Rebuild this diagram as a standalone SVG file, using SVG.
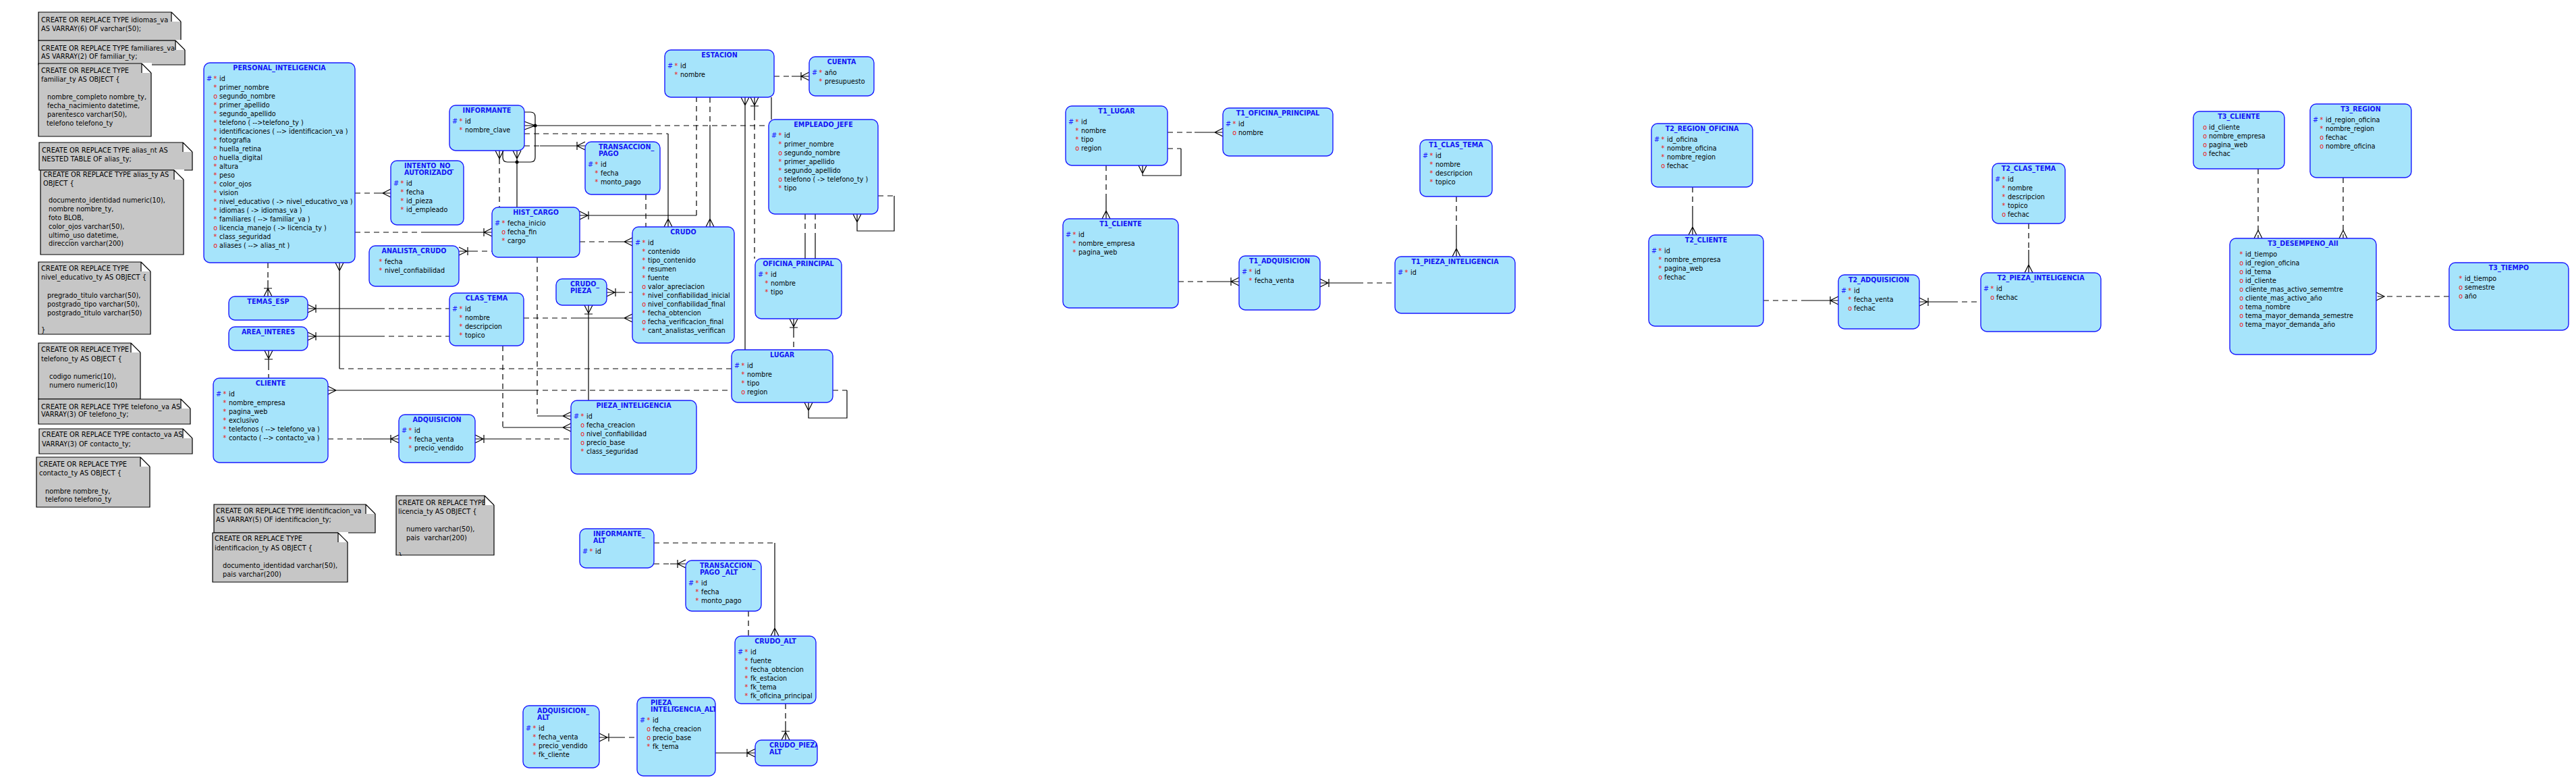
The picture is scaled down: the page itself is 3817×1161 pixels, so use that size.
<svg xmlns="http://www.w3.org/2000/svg" width="3817" height="1161" viewBox="0 0 3817 1161">
<defs>
<style>
text{font-family:"DejaVu Sans","Liberation Sans",sans-serif}
.e rect{fill:#a6e4fb;stroke:#1a1aff;stroke-width:1.4}
.e text{font-size:9.6px;fill:#000}
.e .t{font-weight:bold;fill:#1414f5}
.e .k{fill:#1a1aff}
.e .r{fill:#f01010}
.n polygon{fill:#c6c6c6;stroke:#000;stroke-width:1.2}
.n text{font-size:9.8px;fill:#000}
.n .f{fill:#fff;stroke:none}
.n path{stroke:#000;stroke-width:1.2;fill:none}
#connectors path{fill:none;stroke:#000;stroke-width:1.2}
#connectors path.d{stroke-dasharray:8 6}
#connectors circle{fill:#000}
</style>
<clipPath id="cpA"><rect x="944" y="1033" width="116" height="116" rx="9"/></clipPath>
<clipPath id="cpB"><rect x="1119" y="1096" width="92" height="38" rx="9"/></clipPath>
</defs>
<rect width="3817" height="1161" fill="#fff"/>

<!-- NOTES -->
<g id="note-idiomas_va" class="n"><svg x="56" y="17" width="213" height="44" overflow="hidden">
<polygon points="1,1 198,1 212,15 212,43 1,43"/>
<text x="5" y="16">CREATE OR REPLACE TYPE idiomas_va</text>
<text x="5" y="29">AS VARRAY(6) OF varchar(50);</text>
<rect class="f" x="198" y="0" width="15" height="15"/><path d="M198,1V15M198,1L212,15"/>
</svg></g>
<g id="note-familiares_va" class="n"><svg x="56" y="59" width="219" height="38" overflow="hidden">
<polygon points="1,1 204,1 218,15 218,37 1,37"/>
<text x="5" y="16">CREATE OR REPLACE TYPE familiares_va</text>
<text x="5" y="28">AS VARRAY(2) OF familiar_ty;</text>
<rect class="f" x="204" y="0" width="15" height="15"/><path d="M204,1V15M204,1L218,15"/>
</svg></g>
<g id="note-familiar_ty" class="n"><svg x="56" y="93" width="169" height="110" overflow="hidden">
<polygon points="1,1 154,1 168,15 168,109 1,109"/>
<text x="5" y="15">CREATE OR REPLACE TYPE</text>
<text x="5" y="28">familiar_ty AS OBJECT {</text>
<text x="14" y="54">nombre_completo nombre_ty,</text>
<text x="14" y="67">fecha_nacimiento datetime,</text>
<text x="14" y="80">parentesco varchar(50),</text>
<text x="13" y="93">telefono telefono_ty</text>
<rect class="f" x="154" y="0" width="15" height="15"/><path d="M154,1V15M154,1L168,15"/>
</svg></g>
<g id="note-alias_nt" class="n"><svg x="57" y="210" width="229" height="43" overflow="hidden">
<polygon points="1,1 214,1 228,15 228,42 1,42"/>
<text x="5" y="16">CREATE OR REPLACE TYPE alias_nt AS</text>
<text x="5" y="29">NESTED TABLE OF alias_ty;</text>
<rect class="f" x="214" y="0" width="15" height="15"/><path d="M214,1V15M214,1L228,15"/>
</svg></g>
<g id="note-alias_ty" class="n"><svg x="59" y="251" width="214" height="127" overflow="hidden">
<polygon points="1,1 199,1 213,15 213,126 1,126"/>
<text x="5" y="11">CREATE OR REPLACE TYPE alias_ty AS</text>
<text x="5" y="24">OBJECT {</text>
<text x="13" y="49">documento_identidad numeric(10),</text>
<text x="13" y="62">nombre nombre_ty,</text>
<text x="13" y="75">foto BLOB,</text>
<text x="13" y="88">color_ojos varchar(50),</text>
<text x="13" y="101">ultimo_uso datetime,</text>
<text x="13" y="113">direccion varchar(200)</text>
<rect class="f" x="199" y="0" width="15" height="15"/><path d="M199,1V15M199,1L213,15"/>
</svg></g>
<g id="note-nivel_educativo_ty" class="n"><svg x="56" y="387" width="168" height="109" overflow="hidden">
<polygon points="1,1 153,1 167,15 167,108 1,108"/>
<text x="5" y="14">CREATE OR REPLACE TYPE</text>
<text x="5" y="27">nivel_educativo_ty AS OBJECT {</text>
<text x="14" y="54">pregrado_titulo varchar(50),</text>
<text x="14" y="67">postgrado_tipo varchar(50),</text>
<text x="14" y="80">postgrado_titulo varchar(50)</text>
<text x="5" y="105">}</text>
<rect class="f" x="153" y="0" width="15" height="15"/><path d="M153,1V15M153,1L167,15"/>
</svg></g>
<g id="note-telefono_ty" class="n"><svg x="56" y="507" width="153" height="85" overflow="hidden">
<polygon points="1,1 138,1 152,15 152,84 1,84"/>
<text x="5" y="14">CREATE OR REPLACE TYPE</text>
<text x="5" y="28">telefono_ty AS OBJECT {</text>
<text x="17" y="54">codigo numeric(10),</text>
<text x="17" y="67">numero numeric(10)</text>
<rect class="f" x="138" y="0" width="15" height="15"/><path d="M138,1V15M138,1L152,15"/>
</svg></g>
<g id="note-telefono_va" class="n"><svg x="56" y="590" width="227" height="39" overflow="hidden">
<polygon points="1,1 212,1 226,15 226,38 1,38"/>
<text x="5" y="16">CREATE OR REPLACE TYPE telefono_va AS</text>
<text x="5" y="27">VARRAY(3) OF telefono_ty;</text>
<rect class="f" x="212" y="0" width="15" height="15"/><path d="M212,1V15M212,1L226,15"/>
</svg></g>
<g id="note-contacto_va" class="n"><svg x="57" y="634" width="229" height="39" overflow="hidden">
<polygon points="1,1 214,1 228,15 228,38 1,38"/>
<text x="5" y="13">CREATE OR REPLACE TYPE contacto_va AS</text>
<text x="5" y="27">VARRAY(3) OF contacto_ty;</text>
<rect class="f" x="214" y="0" width="15" height="15"/><path d="M214,1V15M214,1L228,15"/>
</svg></g>
<g id="note-contacto_ty" class="n"><svg x="53" y="676" width="170" height="76" overflow="hidden">
<polygon points="1,1 155,1 169,15 169,75 1,75"/>
<text x="5" y="15">CREATE OR REPLACE TYPE</text>
<text x="5" y="28">contacto_ty AS OBJECT {</text>
<text x="14" y="55">nombre nombre_ty,</text>
<text x="14" y="67">telefono telefono_ty</text>
<rect class="f" x="155" y="0" width="15" height="15"/><path d="M155,1V15M155,1L169,15"/>
</svg></g>
<g id="note-identificacion_va" class="n"><svg x="316" y="746" width="241" height="44" overflow="hidden">
<polygon points="1,1 226,1 240,15 240,43 1,43"/>
<text x="4" y="14">CREATE OR REPLACE TYPE identificacion_va</text>
<text x="4" y="27">AS VARRAY(5) OF identificacion_ty;</text>
<rect class="f" x="226" y="0" width="15" height="15"/><path d="M226,1V15M226,1L240,15"/>
</svg></g>
<g id="note-identificacion_ty" class="n"><svg x="314" y="788" width="202" height="75" overflow="hidden">
<polygon points="1,1 187,1 201,15 201,74 1,74"/>
<text x="4" y="13">CREATE OR REPLACE TYPE</text>
<text x="4" y="27">identificacion_ty AS OBJECT {</text>
<text x="16" y="53">documento_identidad varchar(50),</text>
<text x="16" y="66">pais varchar(200)</text>
<rect class="f" x="187" y="0" width="15" height="15"/><path d="M187,1V15M187,1L201,15"/>
</svg></g>
<g id="note-licencia_ty" class="n"><svg x="586" y="733" width="147" height="90" overflow="hidden">
<polygon points="1,1 132,1 146,15 146,89 1,89"/>
<text x="4" y="15">CREATE OR REPLACE TYPE</text>
<text x="4" y="28">licencia_ty AS OBJECT {</text>
<text x="16" y="54">numero varchar(50),</text>
<text x="16" y="67" style="white-space:pre">pais  varchar(200)</text>
<text x="4" y="93">}</text>
<rect class="f" x="132" y="0" width="15" height="15"/><path d="M132,1V15M132,1L146,15"/>
</svg></g>

<!-- CONNECTORS -->
<g id="connectors">
<path class="d" d="M526,286H558"/><path d="M558,286H579M579,280L567,286L579,292"/>
<path class="d" d="M526,344H627"/><path d="M627,344H729M717,338V350M729,338L717,344L729,350"/>
<path class="d" d="M397,389V415"/><path d="M397,415V439M391,427H403M391,439L397,427L403,439"/>
<path class="d" d="M1084,546H503"/><path d="M503,546V389M497,389L503,401L509,389"/>
<path d="M456,457H562M456,451L468,457L456,463M468,451V463"/><path class="d" d="M562,457H666"/>
<path d="M456,498H562M456,492L468,498L456,504M468,492V504"/><path class="d" d="M562,498H666"/>
<path d="M398,519V540M392,519L398,531L404,519M392,532H404"/><path class="d" d="M398,540V560"/>
<path d="M486,578H790M486,572L498,578L486,584"/><path class="d" d="M790,578H1084"/>
<path class="d" d="M1234,578H1255"/><path d="M1255,578V619H1198V596M1192,596L1198,608L1204,596"/>
<path class="d" d="M486,650H538"/><path d="M538,650H591M579,644V656M591,644L579,650L591,656"/>
<path d="M704,650H765M704,644L716,650L704,656M717,644V656"/><path class="d" d="M765,650H846"/>
<path class="d" d="M745,512V633"/><path d="M745,633H846M846,627L834,633L846,639"/>
<path class="d" d="M796,381V616"/><path d="M796,616H846M846,610L834,616L846,622"/>
<path class="d" d="M776,471H850"/><path d="M850,471H937M937,465L925,471L937,477"/>
<path d="M899,433H918M899,427L911,433L899,439M912,427V439"/><path class="d" d="M918,433H937"/>
<path d="M872,452V593M866,452L872,464L878,452M866,465H878"/>
<path d="M1104,144V518M1098,144L1104,156L1110,144"/>
<path d="M1118,144V170M1112,144L1118,156L1124,144M1112,157H1124"/><path class="d" d="M1118,170V383"/>
<path d="M859,319H1032M859,313L871,319L859,325M872,313V325"/><path class="d" d="M1032,319V144"/>
<path class="d" d="M1052,144V185"/><path d="M1052,185V336M1046,336L1052,324L1058,336"/>
<path d="M777,186H957M777,180L793,186L777,192"/><path class="d" d="M957,186H1139"/><circle cx="793" cy="186" r="2.5"/>
<path class="d" d="M777,198H990"/><path d="M990,198V336M984,336L990,324L996,336"/>
<path class="d" d="M777,216H800"/><path d="M800,216H867M855,210V222M867,210L855,216L867,222"/>
<path d="M777,166H786Q793,166 793,173V233Q793,240 786,240H752Q745,240 745,233V223"/>
<path d="M766,223V307M760,223L766,235L772,223"/><circle cx="766" cy="240" r="2.5"/>
<path d="M740,223V235M734,223L740,235L746,223"/><path class="d" d="M740,235V307"/>
<path d="M680,372H700M680,366L692,372L680,378M693,366V378"/><path class="d" d="M700,372H729"/>
<path class="d" d="M859,358H905"/><path d="M905,358H937M937,352L925,358L937,364"/>
<path class="d" d="M957,288V336"/>
<path class="d" d="M1147,113H1173"/><path d="M1173,113H1199M1187,107V119M1199,107L1187,113L1199,119"/>
<path d="M1143,144V177"/>
<path class="d" d="M1193,317V345M1208,317V345"/><path d="M1193,345V383M1208,345V383"/>
<path class="d" d="M1301,290H1325"/><path d="M1325,290V342H1270V317M1264,317L1270,329L1276,317"/>
<path d="M1176,472V492M1170,472L1176,484L1182,472M1170,485H1182"/><path class="d" d="M1176,492V518"/>
<path class="d" d="M969,804H1148"/><path d="M1148,804V942M1142,942L1148,930L1154,942"/>
<path class="d" d="M969,835H993"/><path d="M993,835H1016M1004,829V841M1016,829L1004,835L1016,841"/>
<path class="d" d="M1109,905V942"/>
<path class="d" d="M1164,1042V1068"/><path d="M1164,1068V1096M1158,1083H1170M1158,1096L1164,1084L1170,1096"/>
<path d="M1060,1115H1119M1107,1109V1121M1119,1109L1107,1115L1119,1121"/>
<path d="M888,1092H918M888,1086L900,1092L888,1098M902,1086V1098"/><path class="d" d="M918,1092H944"/>
<path class="d" d="M1730,196H1770"/><path d="M1770,196H1812M1812,190L1800,196L1812,202"/>
<path class="d" d="M1730,220H1750"/><path d="M1750,220V260H1693V245M1687,245L1693,257L1699,245"/>
<path class="d" d="M1639,245V290"/><path d="M1639,290V324M1633,324L1639,312L1645,324"/>
<path class="d" d="M1746,417H1788"/><path d="M1788,417H1836M1824,411V423M1836,411L1824,417L1836,423"/>
<path d="M1956,419H2012M1956,413L1968,419L1956,425M1969,413V425"/><path class="d" d="M2012,419H2067"/>
<path class="d" d="M2158,291V340"/><path d="M2158,340V380M2152,380L2158,368L2164,380"/>
<path class="d" d="M2508,277V310"/><path d="M2508,310V348M2502,348L2508,336L2514,348"/>
<path class="d" d="M2613,445H2669"/><path d="M2669,445H2724M2712,439V451M2724,439L2712,445L2724,451"/>
<path d="M2844,447H2893M2844,441L2856,447L2844,453M2857,441V453"/><path class="d" d="M2893,447H2935"/>
<path class="d" d="M3006,331V370"/><path d="M3006,370V404M3000,404L3006,392L3012,404"/>
<path class="d" d="M3346,250V353"/><path d="M3340,353L3346,341L3352,353"/>
<path class="d" d="M3472,263V353"/><path d="M3466,353L3472,341L3478,353"/>
<path class="d" d="M3629,439H3521"/><path d="M3521,433L3533,439L3521,445"/>
</g>

<!-- ENTITIES -->
<g id="PERSONAL_INTELIGENCIA" class="e"><rect x="302" y="93" width="224" height="296" rx="9"/>
<text class="t" x="414" y="103.5" text-anchor="middle">PERSONAL_INTELIGENCIA</text>
<text y="119.5"><tspan class="k" x="306">#</tspan><tspan class="r" x="316.6">*</tspan><tspan x="325">id</tspan></text>
<text y="132.5"><tspan class="r" x="316.6">*</tspan><tspan x="325">primer_nombre</tspan></text>
<text y="145.5"><tspan class="r" x="316.2">o</tspan><tspan x="325">segundo_nombre</tspan></text>
<text y="158.5"><tspan class="r" x="316.6">*</tspan><tspan x="325">primer_apellido</tspan></text>
<text y="171.5"><tspan class="r" x="316.6">*</tspan><tspan x="325">segundo_apellido</tspan></text>
<text y="184.5"><tspan class="r" x="316.6">*</tspan><tspan x="325">telefono ( --&gt;telefono_ty )</tspan></text>
<text y="197.5"><tspan class="r" x="316.6">*</tspan><tspan x="325">identificaciones ( --&gt; identificacion_va )</tspan></text>
<text y="210.5"><tspan class="r" x="316.6">*</tspan><tspan x="325">fotografia</tspan></text>
<text y="223.5"><tspan class="r" x="316.6">*</tspan><tspan x="325">huella_retina</tspan></text>
<text y="236.5"><tspan class="r" x="316.2">o</tspan><tspan x="325">huella_digital</tspan></text>
<text y="249.5"><tspan class="r" x="316.6">*</tspan><tspan x="325">altura</tspan></text>
<text y="262.5"><tspan class="r" x="316.6">*</tspan><tspan x="325">peso</tspan></text>
<text y="275.5"><tspan class="r" x="316.6">*</tspan><tspan x="325">color_ojos</tspan></text>
<text y="288.5"><tspan class="r" x="316.6">*</tspan><tspan x="325">vision</tspan></text>
<text y="301.5"><tspan class="r" x="316.6">*</tspan><tspan x="325">nivel_educativo ( -&gt; nivel_educativo_va )</tspan></text>
<text y="314.5"><tspan class="r" x="316.6">*</tspan><tspan x="325">idiomas ( -&gt; idiomas_va )</tspan></text>
<text y="327.5"><tspan class="r" x="316.6">*</tspan><tspan x="325">familiares ( --&gt; familiar_va )</tspan></text>
<text y="340.5"><tspan class="r" x="316.2">o</tspan><tspan x="325">licencia_manejo ( -&gt; licencia_ty )</tspan></text>
<text y="353.5"><tspan class="r" x="316.6">*</tspan><tspan x="325">class_seguridad</tspan></text>
<text y="366.5"><tspan class="r" x="316.2">o</tspan><tspan x="325">aliases ( --&gt; alias_nt )</tspan></text>
</g>
<g id="INFORMANTE" class="e"><rect x="666" y="156" width="111" height="67" rx="9"/>
<text class="t" x="721.5" y="166.5" text-anchor="middle">INFORMANTE</text>
<text y="182.5"><tspan class="k" x="670">#</tspan><tspan class="r" x="680.6">*</tspan><tspan x="689">id</tspan></text>
<text y="195.5"><tspan class="r" x="680.6">*</tspan><tspan x="689">nombre_clave</tspan></text>
</g>
<g id="INTENTO_NO_AUTORIZADO" class="e"><rect x="579" y="238" width="108" height="95" rx="9"/>
<text class="t" x="599" y="248.5">INTENTO_NO_</text><text class="t" x="599" y="258.5">AUTORIZADO</text>
<text y="274.5"><tspan class="k" x="583">#</tspan><tspan class="r" x="593.6">*</tspan><tspan x="602">id</tspan></text>
<text y="287.5"><tspan class="r" x="593.6">*</tspan><tspan x="602">fecha</tspan></text>
<text y="300.5"><tspan class="r" x="593.6">*</tspan><tspan x="602">id_pieza</tspan></text>
<text y="313.5"><tspan class="r" x="593.6">*</tspan><tspan x="602">id_empleado</tspan></text>
</g>
<g id="HIST_CARGO" class="e"><rect x="729" y="307" width="130" height="74" rx="9"/>
<text class="t" x="794" y="317.5" text-anchor="middle">HIST_CARGO</text>
<text y="333.5"><tspan class="k" x="733">#</tspan><tspan class="r" x="743.6">*</tspan><tspan x="752">fecha_inicio</tspan></text>
<text y="346.5"><tspan class="r" x="743.2">o</tspan><tspan x="752">fecha_fin</tspan></text>
<text y="359.5"><tspan class="r" x="743.6">*</tspan><tspan x="752">cargo</tspan></text>
</g>
<g id="ANALISTA_CRUDO" class="e"><rect x="547" y="364" width="133" height="60" rx="9"/>
<text class="t" x="613.5" y="374.5" text-anchor="middle">ANALISTA_CRUDO</text>
<text y="390.5"><tspan class="r" x="561.6">*</tspan><tspan x="570">fecha</tspan></text>
<text y="403.5"><tspan class="r" x="561.6">*</tspan><tspan x="570">nivel_confiabilidad</tspan></text>
</g>
<g id="ESTACION" class="e"><rect x="985" y="74" width="162" height="70" rx="9"/>
<text class="t" x="1066" y="84.5" text-anchor="middle">ESTACION</text>
<text y="100.5"><tspan class="k" x="989">#</tspan><tspan class="r" x="999.6">*</tspan><tspan x="1008">id</tspan></text>
<text y="113.5"><tspan class="r" x="999.6">*</tspan><tspan x="1008">nombre</tspan></text>
</g>
<g id="CUENTA" class="e"><rect x="1199" y="84" width="96" height="58" rx="9"/>
<text class="t" x="1247" y="94.5" text-anchor="middle">CUENTA</text>
<text y="110.5"><tspan class="k" x="1203">#</tspan><tspan class="r" x="1213.6">*</tspan><tspan x="1222">año</tspan></text>
<text y="123.5"><tspan class="r" x="1213.6">*</tspan><tspan x="1222">presupuesto</tspan></text>
</g>
<g id="TRANSACCION_PAGO" class="e"><rect x="867" y="210" width="111" height="78" rx="9"/>
<text class="t" x="887" y="220.5">TRANSACCION_</text><text class="t" x="887" y="230.5">PAGO</text>
<text y="246.5"><tspan class="k" x="871">#</tspan><tspan class="r" x="881.6">*</tspan><tspan x="890">id</tspan></text>
<text y="259.5"><tspan class="r" x="881.6">*</tspan><tspan x="890">fecha</tspan></text>
<text y="272.5"><tspan class="r" x="881.6">*</tspan><tspan x="890">monto_pago</tspan></text>
</g>
<g id="EMPLEADO_JEFE" class="e"><rect x="1139" y="177" width="162" height="140" rx="9"/>
<text class="t" x="1220" y="187.5" text-anchor="middle">EMPLEADO_JEFE</text>
<text y="203.5"><tspan class="k" x="1143">#</tspan><tspan class="r" x="1153.6">*</tspan><tspan x="1162">id</tspan></text>
<text y="216.5"><tspan class="r" x="1153.6">*</tspan><tspan x="1162">primer_nombre</tspan></text>
<text y="229.5"><tspan class="r" x="1153.2">o</tspan><tspan x="1162">segundo_nombre</tspan></text>
<text y="242.5"><tspan class="r" x="1153.6">*</tspan><tspan x="1162">primer_apellido</tspan></text>
<text y="255.5"><tspan class="r" x="1153.6">*</tspan><tspan x="1162">segundo_apellido</tspan></text>
<text y="268.5"><tspan class="r" x="1153.2">o</tspan><tspan x="1162">telefono ( -&gt; telefono_ty )</tspan></text>
<text y="281.5"><tspan class="r" x="1153.6">*</tspan><tspan x="1162">tipo</tspan></text>
</g>
<g id="CRUDO" class="e"><rect x="937" y="336" width="151" height="172" rx="9"/>
<text class="t" x="1012.5" y="346.5" text-anchor="middle">CRUDO</text>
<text y="362.5"><tspan class="k" x="941">#</tspan><tspan class="r" x="951.6">*</tspan><tspan x="960">id</tspan></text>
<text y="375.5"><tspan class="r" x="951.6">*</tspan><tspan x="960">contenido</tspan></text>
<text y="388.5"><tspan class="r" x="951.6">*</tspan><tspan x="960">tipo_contenido</tspan></text>
<text y="401.5"><tspan class="r" x="951.6">*</tspan><tspan x="960">resumen</tspan></text>
<text y="414.5"><tspan class="r" x="951.6">*</tspan><tspan x="960">fuente</tspan></text>
<text y="427.5"><tspan class="r" x="951.2">o</tspan><tspan x="960">valor_apreciacion</tspan></text>
<text y="440.5"><tspan class="r" x="951.6">*</tspan><tspan x="960">nivel_confiabilidad_inicial</tspan></text>
<text y="453.5"><tspan class="r" x="951.2">o</tspan><tspan x="960">nivel_confiabilidad_final</tspan></text>
<text y="466.5"><tspan class="r" x="951.6">*</tspan><tspan x="960">fecha_obtencion</tspan></text>
<text y="479.5"><tspan class="r" x="951.2">o</tspan><tspan x="960">fecha_verificacion_final</tspan></text>
<text y="492.5"><tspan class="r" x="951.6">*</tspan><tspan x="960">cant_analistas_verifican</tspan></text>
</g>
<g id="OFICINA_PRINCIPAL" class="e"><rect x="1119" y="383" width="128" height="89" rx="9"/>
<text class="t" x="1183" y="393.5" text-anchor="middle">OFICINA_PRINCIPAL</text>
<text y="409.5"><tspan class="k" x="1123">#</tspan><tspan class="r" x="1133.6">*</tspan><tspan x="1142">id</tspan></text>
<text y="422.5"><tspan class="r" x="1133.6">*</tspan><tspan x="1142">nombre</tspan></text>
<text y="435.5"><tspan class="r" x="1133.6">*</tspan><tspan x="1142">tipo</tspan></text>
</g>
<g id="CRUDO_PIEZA" class="e"><rect x="824" y="413" width="75" height="39" rx="9"/>
<text class="t" x="845" y="423.5">CRUDO_</text><text class="t" x="845" y="433.5">PIEZA</text>
</g>
<g id="LUGAR" class="e"><rect x="1084" y="518" width="150" height="78" rx="9"/>
<text class="t" x="1159" y="528.5" text-anchor="middle">LUGAR</text>
<text y="544.5"><tspan class="k" x="1088">#</tspan><tspan class="r" x="1098.6">*</tspan><tspan x="1107">id</tspan></text>
<text y="557.5"><tspan class="r" x="1098.6">*</tspan><tspan x="1107">nombre</tspan></text>
<text y="570.5"><tspan class="r" x="1098.6">*</tspan><tspan x="1107">tipo</tspan></text>
<text y="583.5"><tspan class="r" x="1098.2">o</tspan><tspan x="1107">region</tspan></text>
</g>
<g id="PIEZA_INTELIGENCIA" class="e"><rect x="846" y="593" width="186" height="109" rx="9"/>
<text class="t" x="939" y="603.5" text-anchor="middle">PIEZA_INTELIGENCIA</text>
<text y="619.5"><tspan class="k" x="850">#</tspan><tspan class="r" x="860.6">*</tspan><tspan x="869">id</tspan></text>
<text y="632.5"><tspan class="r" x="860.2">o</tspan><tspan x="869">fecha_creacion</tspan></text>
<text y="645.5"><tspan class="r" x="860.2">o</tspan><tspan x="869">nivel_confiabilidad</tspan></text>
<text y="658.5"><tspan class="r" x="860.2">o</tspan><tspan x="869">precio_base</tspan></text>
<text y="671.5"><tspan class="r" x="860.6">*</tspan><tspan x="869">class_seguridad</tspan></text>
</g>
<g id="TEMAS_ESP" class="e"><rect x="339" y="439" width="117" height="35" rx="9"/>
<text class="t" x="397.5" y="449.5" text-anchor="middle">TEMAS_ESP</text>
</g>
<g id="AREA_INTERES" class="e"><rect x="339" y="484" width="117" height="35" rx="9"/>
<text class="t" x="397.5" y="494.5" text-anchor="middle">AREA_INTERES</text>
</g>
<g id="CLAS_TEMA" class="e"><rect x="666" y="434" width="110" height="78" rx="9"/>
<text class="t" x="721" y="444.5" text-anchor="middle">CLAS_TEMA</text>
<text y="460.5"><tspan class="k" x="670">#</tspan><tspan class="r" x="680.6">*</tspan><tspan x="689">id</tspan></text>
<text y="473.5"><tspan class="r" x="680.6">*</tspan><tspan x="689">nombre</tspan></text>
<text y="486.5"><tspan class="r" x="680.6">*</tspan><tspan x="689">descripcion</tspan></text>
<text y="499.5"><tspan class="r" x="680.6">*</tspan><tspan x="689">topico</tspan></text>
</g>
<g id="CLIENTE" class="e"><rect x="316" y="560" width="170" height="125" rx="9"/>
<text class="t" x="401" y="570.5" text-anchor="middle">CLIENTE</text>
<text y="586.5"><tspan class="k" x="320">#</tspan><tspan class="r" x="330.6">*</tspan><tspan x="339">id</tspan></text>
<text y="599.5"><tspan class="r" x="330.6">*</tspan><tspan x="339">nombre_empresa</tspan></text>
<text y="612.5"><tspan class="r" x="330.6">*</tspan><tspan x="339">pagina_web</tspan></text>
<text y="625.5"><tspan class="r" x="330.6">*</tspan><tspan x="339">exclusivo</tspan></text>
<text y="638.5"><tspan class="r" x="330.6">*</tspan><tspan x="339">telefonos ( --&gt; telefono_va )</tspan></text>
<text y="651.5"><tspan class="r" x="330.6">*</tspan><tspan x="339">contacto ( --&gt; contacto_va )</tspan></text>
</g>
<g id="ADQUISICION" class="e"><rect x="591" y="614" width="113" height="71" rx="9"/>
<text class="t" x="647.5" y="624.5" text-anchor="middle">ADQUISICION</text>
<text y="640.5"><tspan class="k" x="595">#</tspan><tspan class="r" x="605.6">*</tspan><tspan x="614">id</tspan></text>
<text y="653.5"><tspan class="r" x="605.6">*</tspan><tspan x="614">fecha_venta</tspan></text>
<text y="666.5"><tspan class="r" x="605.6">*</tspan><tspan x="614">precio_vendido</tspan></text>
</g>

<g id="INFORMANTE_ALT" class="e"><rect x="859" y="783" width="110" height="58" rx="9"/>
<text class="t" x="879" y="793.5">INFORMANTE_</text><text class="t" x="879" y="803.5">ALT</text>
<text y="819.5"><tspan class="k" x="863">#</tspan><tspan class="r" x="873.6">*</tspan><tspan x="882">id</tspan></text>
</g>
<g id="TRANSACCION_PAGO_ALT" class="e"><rect x="1016" y="830" width="112" height="75" rx="9"/>
<text class="t" x="1037" y="840.5">TRANSACCION_</text><text class="t" x="1037" y="850.5">PAGO _ALT</text>
<text y="866.5"><tspan class="k" x="1020">#</tspan><tspan class="r" x="1030.6">*</tspan><tspan x="1039">id</tspan></text>
<text y="879.5"><tspan class="r" x="1030.6">*</tspan><tspan x="1039">fecha</tspan></text>
<text y="892.5"><tspan class="r" x="1030.6">*</tspan><tspan x="1039">monto_pago</tspan></text>
</g>
<g id="CRUDO_ALT" class="e"><rect x="1089" y="942" width="120" height="100" rx="9"/>
<text class="t" x="1149" y="952.5" text-anchor="middle">CRUDO_ALT</text>
<text y="968.5"><tspan class="k" x="1093">#</tspan><tspan class="r" x="1103.6">*</tspan><tspan x="1112">id</tspan></text>
<text y="981.5"><tspan class="r" x="1103.6">*</tspan><tspan x="1112">fuente</tspan></text>
<text y="994.5"><tspan class="r" x="1103.6">*</tspan><tspan x="1112">fecha_obtencion</tspan></text>
<text y="1007.5"><tspan class="r" x="1103.6">*</tspan><tspan x="1112">fk_estacion</tspan></text>
<text y="1020.5"><tspan class="r" x="1103.6">*</tspan><tspan x="1112">fk_tema</tspan></text>
<text y="1033.5"><tspan class="r" x="1103.6">*</tspan><tspan x="1112">fk_oficina_principal</tspan></text>
</g>
<g id="ADQUISICION_ALT" class="e"><rect x="775" y="1045" width="113" height="92" rx="9"/>
<text class="t" x="796" y="1055.5">ADQUISICION_</text><text class="t" x="796" y="1065.5">ALT</text>
<text y="1081.5"><tspan class="k" x="779">#</tspan><tspan class="r" x="789.6">*</tspan><tspan x="798">id</tspan></text>
<text y="1094.5"><tspan class="r" x="789.6">*</tspan><tspan x="798">fecha_venta</tspan></text>
<text y="1107.5"><tspan class="r" x="789.6">*</tspan><tspan x="798">precio_vendido</tspan></text>
<text y="1120.5"><tspan class="r" x="789.6">*</tspan><tspan x="798">fk_cliente</tspan></text>
</g>
<g id="PIEZA_INTELIGENCIA_ALT" class="e"><rect x="944" y="1033" width="116" height="116" rx="9"/>
<g clip-path="url(#cpA)"><text class="t" x="964" y="1043.5">PIEZA_</text><text class="t" x="964" y="1053.5">INTELIGENCIA_ALT</text></g>
<text y="1069.5"><tspan class="k" x="948">#</tspan><tspan class="r" x="958.6">*</tspan><tspan x="967">id</tspan></text>
<text y="1082.5"><tspan class="r" x="958.2">o</tspan><tspan x="967">fecha_creacion</tspan></text>
<text y="1095.5"><tspan class="r" x="958.2">o</tspan><tspan x="967">precio_base</tspan></text>
<text y="1108.5"><tspan class="r" x="958.6">*</tspan><tspan x="967">fk_tema</tspan></text>
</g>
<g id="CRUDO_PIEZA_ALT" class="e"><rect x="1119" y="1096" width="92" height="38" rx="9"/>
<g clip-path="url(#cpB)"><text class="t" x="1140" y="1106.5">CRUDO_PIEZA_</text><text class="t" x="1140" y="1116.5">ALT</text></g>
</g>

<g id="T1_LUGAR" class="e"><rect x="1579" y="157" width="151" height="88" rx="9"/>
<text class="t" x="1654.5" y="167.5" text-anchor="middle">T1_LUGAR</text>
<text y="183.5"><tspan class="k" x="1583">#</tspan><tspan class="r" x="1593.6">*</tspan><tspan x="1602">id</tspan></text>
<text y="196.5"><tspan class="r" x="1593.6">*</tspan><tspan x="1602">nombre</tspan></text>
<text y="209.5"><tspan class="r" x="1593.6">*</tspan><tspan x="1602">tipo</tspan></text>
<text y="222.5"><tspan class="r" x="1593.2">o</tspan><tspan x="1602">region</tspan></text>
</g>
<g id="T1_OFICINA_PRINCIPAL" class="e"><rect x="1812" y="160" width="163" height="71" rx="9"/>
<text class="t" x="1893.5" y="170.5" text-anchor="middle">T1_OFICINA_PRINCIPAL</text>
<text y="186.5"><tspan class="k" x="1816">#</tspan><tspan class="r" x="1826.6">*</tspan><tspan x="1835">id</tspan></text>
<text y="199.5"><tspan class="r" x="1826.2">o</tspan><tspan x="1835">nombre</tspan></text>
</g>
<g id="T1_CLAS_TEMA" class="e"><rect x="2104" y="207" width="107" height="84" rx="9"/>
<text class="t" x="2157.5" y="217.5" text-anchor="middle">T1_CLAS_TEMA</text>
<text y="233.5"><tspan class="k" x="2108">#</tspan><tspan class="r" x="2118.6">*</tspan><tspan x="2127">id</tspan></text>
<text y="246.5"><tspan class="r" x="2118.6">*</tspan><tspan x="2127">nombre</tspan></text>
<text y="259.5"><tspan class="r" x="2118.6">*</tspan><tspan x="2127">descripcion</tspan></text>
<text y="272.5"><tspan class="r" x="2118.6">*</tspan><tspan x="2127">topico</tspan></text>
</g>
<g id="T1_CLIENTE" class="e"><rect x="1575" y="324" width="171" height="132" rx="9"/>
<text class="t" x="1660.5" y="334.5" text-anchor="middle">T1_CLIENTE</text>
<text y="350.5"><tspan class="k" x="1579">#</tspan><tspan class="r" x="1589.6">*</tspan><tspan x="1598">id</tspan></text>
<text y="363.5"><tspan class="r" x="1589.6">*</tspan><tspan x="1598">nombre_empresa</tspan></text>
<text y="376.5"><tspan class="r" x="1589.6">*</tspan><tspan x="1598">pagina_web</tspan></text>
</g>
<g id="T1_ADQUISICION" class="e"><rect x="1836" y="379" width="120" height="80" rx="9"/>
<text class="t" x="1896" y="389.5" text-anchor="middle">T1_ADQUISICION</text>
<text y="405.5"><tspan class="k" x="1840">#</tspan><tspan class="r" x="1850.6">*</tspan><tspan x="1859">id</tspan></text>
<text y="418.5"><tspan class="r" x="1850.6">*</tspan><tspan x="1859">fecha_venta</tspan></text>
</g>
<g id="T1_PIEZA_INTELIGENCIA" class="e"><rect x="2067" y="380" width="178" height="84" rx="9"/>
<text class="t" x="2156" y="390.5" text-anchor="middle">T1_PIEZA_INTELIGENCIA</text>
<text y="406.5"><tspan class="k" x="2071">#</tspan><tspan class="r" x="2081.6">*</tspan><tspan x="2090">id</tspan></text>
</g>

<g id="T2_REGION_OFICINA" class="e"><rect x="2447" y="183" width="150" height="94" rx="9"/>
<text class="t" x="2522" y="193.5" text-anchor="middle">T2_REGION_OFICINA</text>
<text y="209.5"><tspan class="k" x="2451">#</tspan><tspan class="r" x="2461.6">*</tspan><tspan x="2470">id_oficina</tspan></text>
<text y="222.5"><tspan class="r" x="2461.6">*</tspan><tspan x="2470">nombre_oficina</tspan></text>
<text y="235.5"><tspan class="r" x="2461.6">*</tspan><tspan x="2470">nombre_region</tspan></text>
<text y="248.5"><tspan class="r" x="2461.2">o</tspan><tspan x="2470">fechac</tspan></text>
</g>
<g id="T2_CLIENTE" class="e"><rect x="2443" y="348" width="170" height="135" rx="9"/>
<text class="t" x="2528" y="358.5" text-anchor="middle">T2_CLIENTE</text>
<text y="374.5"><tspan class="k" x="2447">#</tspan><tspan class="r" x="2457.6">*</tspan><tspan x="2466">id</tspan></text>
<text y="387.5"><tspan class="r" x="2457.6">*</tspan><tspan x="2466">nombre_empresa</tspan></text>
<text y="400.5"><tspan class="r" x="2457.6">*</tspan><tspan x="2466">pagina_web</tspan></text>
<text y="413.5"><tspan class="r" x="2457.2">o</tspan><tspan x="2466">fechac</tspan></text>
</g>
<g id="T2_ADQUISICION" class="e"><rect x="2724" y="407" width="120" height="80" rx="9"/>
<text class="t" x="2784" y="417.5" text-anchor="middle">T2_ADQUISICION</text>
<text y="433.5"><tspan class="k" x="2728">#</tspan><tspan class="r" x="2738.6">*</tspan><tspan x="2747">id</tspan></text>
<text y="446.5"><tspan class="r" x="2738.6">*</tspan><tspan x="2747">fecha_venta</tspan></text>
<text y="459.5"><tspan class="r" x="2738.2">o</tspan><tspan x="2747">fechac</tspan></text>
</g>
<g id="T2_CLAS_TEMA" class="e"><rect x="2952" y="242" width="108" height="89" rx="9"/>
<text class="t" x="3006" y="252.5" text-anchor="middle">T2_CLAS_TEMA</text>
<text y="268.5"><tspan class="k" x="2956">#</tspan><tspan class="r" x="2966.6">*</tspan><tspan x="2975">id</tspan></text>
<text y="281.5"><tspan class="r" x="2966.6">*</tspan><tspan x="2975">nombre</tspan></text>
<text y="294.5"><tspan class="r" x="2966.6">*</tspan><tspan x="2975">descripcion</tspan></text>
<text y="307.5"><tspan class="r" x="2966.6">*</tspan><tspan x="2975">topico</tspan></text>
<text y="320.5"><tspan class="r" x="2966.2">o</tspan><tspan x="2975">fechac</tspan></text>
</g>
<g id="T2_PIEZA_INTELIGENCIA" class="e"><rect x="2935" y="404" width="178" height="87" rx="9"/>
<text class="t" x="3024" y="414.5" text-anchor="middle">T2_PIEZA_INTELIGENCIA</text>
<text y="430.5"><tspan class="k" x="2939">#</tspan><tspan class="r" x="2949.6">*</tspan><tspan x="2958">id</tspan></text>
<text y="443.5"><tspan class="r" x="2949.2">o</tspan><tspan x="2958">fechac</tspan></text>
</g>

<g id="T3_CLIENTE" class="e"><rect x="3250" y="165" width="135" height="85" rx="9"/>
<text class="t" x="3317.5" y="175.5" text-anchor="middle">T3_CLIENTE</text>
<text y="191.5"><tspan class="r" x="3264.2">o</tspan><tspan x="3273">id_cliente</tspan></text>
<text y="204.5"><tspan class="r" x="3264.2">o</tspan><tspan x="3273">nombre_empresa</tspan></text>
<text y="217.5"><tspan class="r" x="3264.2">o</tspan><tspan x="3273">pagina_web</tspan></text>
<text y="230.5"><tspan class="r" x="3264.2">o</tspan><tspan x="3273">fechac</tspan></text>
</g>
<g id="T3_REGION" class="e"><rect x="3423" y="154" width="150" height="109" rx="9"/>
<text class="t" x="3498" y="164.5" text-anchor="middle">T3_REGION</text>
<text y="180.5"><tspan class="k" x="3427">#</tspan><tspan class="r" x="3437.6">*</tspan><tspan x="3446">id_region_oficina</tspan></text>
<text y="193.5"><tspan class="r" x="3437.6">*</tspan><tspan x="3446">nombre_region</tspan></text>
<text y="206.5"><tspan class="r" x="3437.2">o</tspan><tspan x="3446">fechac</tspan></text>
<text y="219.5"><tspan class="r" x="3437.2">o</tspan><tspan x="3446">nombre_oficina</tspan></text>
</g>
<g id="T3_DESEMPENO_AII" class="e"><rect x="3304" y="353" width="217" height="172" rx="9"/>
<text class="t" x="3412.5" y="363.5" text-anchor="middle">T3_DESEMPENO_AII</text>
<text y="379.5"><tspan class="r" x="3318.6">*</tspan><tspan x="3327">id_tiempo</tspan></text>
<text y="392.5"><tspan class="r" x="3318.2">o</tspan><tspan x="3327">id_region_oficina</tspan></text>
<text y="405.5"><tspan class="r" x="3318.2">o</tspan><tspan x="3327">id_tema</tspan></text>
<text y="418.5"><tspan class="r" x="3318.2">o</tspan><tspan x="3327">id_cliente</tspan></text>
<text y="431.5"><tspan class="r" x="3318.2">o</tspan><tspan x="3327">cliente_mas_activo_sememtre</tspan></text>
<text y="444.5"><tspan class="r" x="3318.2">o</tspan><tspan x="3327">cliente_mas_activo_año</tspan></text>
<text y="457.5"><tspan class="r" x="3318.2">o</tspan><tspan x="3327">tema_nombre</tspan></text>
<text y="470.5"><tspan class="r" x="3318.2">o</tspan><tspan x="3327">tema_mayor_demanda_semestre</tspan></text>
<text y="483.5"><tspan class="r" x="3318.2">o</tspan><tspan x="3327">tema_mayor_demanda_año</tspan></text>
</g>
<g id="T3_TIEMPO" class="e"><rect x="3629" y="389" width="177" height="100" rx="9"/>
<text class="t" x="3717.5" y="399.5" text-anchor="middle">T3_TIEMPO</text>
<text y="415.5"><tspan class="r" x="3643.6">*</tspan><tspan x="3652">id_tiempo</tspan></text>
<text y="428.5"><tspan class="r" x="3643.2">o</tspan><tspan x="3652">semestre</tspan></text>
<text y="441.5"><tspan class="r" x="3643.2">o</tspan><tspan x="3652">año</tspan></text>
</g>
</svg>
